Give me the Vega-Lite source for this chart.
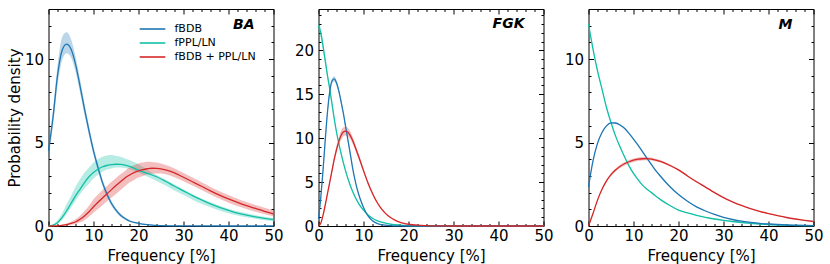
{
"$schema": "https://vega.github.io/schema/vega-lite/v6.json",
"autosize": {"type": "pad"},
"padding": {"left": 6.5, "top": 7, "right": 0, "bottom": 0},
"config": {
  "font": "DejaVu Sans",
  "view": {"stroke": "#000", "strokeWidth": 1},
  "style": {"guide-label": {"fontSize": 15, "font": "DejaVu Sans", "fill": "#000"}, "guide-title": {"fontSize": 15, "font": "DejaVu Sans", "fill": "#000", "fontWeight": "normal"}},
  "axis": {"grid": false, "domain": false, "labelFontSize": 15, "titleFontSize": 15, "labelColor": "#000", "titleColor": "#000", "tickColor": "#000", "tickWidth": 1, "titleFontWeight": "normal", "labelFont": "DejaVu Sans", "titleFont": "DejaVu Sans", "labelOverlap": false, "labelFlush": false, "labelBound": false},
  "legend": {"labelFontSize": 11, "labelFont": "DejaVu Sans", "labelColor": "#000"},
  "title": {"font": "DejaVu Sans"}
},
"datasets": {"d": [
{"p":"BA","s":"B","x":0,"y":4.5,"lo":4.1,"hi":4.9},
{"p":"BA","s":"B","x":1,"y":6.5,"lo":6.0,"hi":7.0},
{"p":"BA","s":"B","x":2,"y":9.0,"lo":8.4,"hi":9.6},
{"p":"BA","s":"B","x":3,"y":10.5,"lo":9.9,"hi":11.3},
{"p":"BA","s":"B","x":4,"y":10.9,"lo":10.35,"hi":11.6},
{"p":"BA","s":"B","x":5,"y":10.6,"lo":10.1,"hi":11.2},
{"p":"BA","s":"B","x":6,"y":9.7,"lo":9.25,"hi":10.15},
{"p":"BA","s":"B","x":7,"y":8.4,"lo":8.0,"hi":8.8},
{"p":"BA","s":"B","x":8,"y":7.0,"lo":6.65,"hi":7.35},
{"p":"BA","s":"B","x":9,"y":5.7,"lo":5.4,"hi":6.0},
{"p":"BA","s":"B","x":10,"y":4.5,"lo":4.25,"hi":4.75},
{"p":"BA","s":"B","x":11,"y":3.5,"lo":3.27,"hi":3.73},
{"p":"BA","s":"B","x":12,"y":2.6,"lo":2.4,"hi":2.8},
{"p":"BA","s":"B","x":13,"y":1.9,"lo":1.72,"hi":2.08},
{"p":"BA","s":"B","x":14,"y":1.35,"lo":1.2,"hi":1.5},
{"p":"BA","s":"B","x":15,"y":0.95,"lo":0.83,"hi":1.07},
{"p":"BA","s":"B","x":16,"y":0.65,"lo":0.55,"hi":0.75},
{"p":"BA","s":"B","x":17,"y":0.45,"lo":0.37,"hi":0.53},
{"p":"BA","s":"B","x":18,"y":0.3,"lo":0.24,"hi":0.36},
{"p":"BA","s":"B","x":20,"y":0.16,"lo":0.12,"hi":0.2},
{"p":"BA","s":"B","x":22,"y":0.08,"lo":0.05,"hi":0.1},
{"p":"BA","s":"B","x":25,"y":0.02,"lo":0.01,"hi":0.03},
{"p":"BA","s":"B","x":30,"y":0.005,"lo":0,"hi":0.01},
{"p":"BA","s":"B","x":40,"y":0,"lo":0,"hi":0},
{"p":"BA","s":"B","x":50,"y":0,"lo":0,"hi":0},
{"p":"BA","s":"P","x":0,"y":0,"lo":0,"hi":0},
{"p":"BA","s":"P","x":1,"y":0.05,"lo":0.03,"hi":0.08},
{"p":"BA","s":"P","x":2,"y":0.2,"lo":0.15,"hi":0.35},
{"p":"BA","s":"P","x":3,"y":0.5,"lo":0.35,"hi":0.75},
{"p":"BA","s":"P","x":4,"y":0.9,"lo":0.7,"hi":1.3},
{"p":"BA","s":"P","x":5,"y":1.35,"lo":1.1,"hi":1.8},
{"p":"BA","s":"P","x":6,"y":1.8,"lo":1.5,"hi":2.35},
{"p":"BA","s":"P","x":7,"y":2.2,"lo":1.9,"hi":2.8},
{"p":"BA","s":"P","x":8,"y":2.6,"lo":2.25,"hi":3.2},
{"p":"BA","s":"P","x":9,"y":2.95,"lo":2.55,"hi":3.5},
{"p":"BA","s":"P","x":10,"y":3.2,"lo":2.85,"hi":3.8},
{"p":"BA","s":"P","x":11,"y":3.4,"lo":3.05,"hi":4.0},
{"p":"BA","s":"P","x":12,"y":3.55,"lo":3.25,"hi":4.15},
{"p":"BA","s":"P","x":13,"y":3.63,"lo":3.38,"hi":4.23},
{"p":"BA","s":"P","x":14,"y":3.68,"lo":3.45,"hi":4.25},
{"p":"BA","s":"P","x":15,"y":3.7,"lo":3.5,"hi":4.2},
{"p":"BA","s":"P","x":16,"y":3.69,"lo":3.5,"hi":4.15},
{"p":"BA","s":"P","x":17,"y":3.65,"lo":3.47,"hi":4.05},
{"p":"BA","s":"P","x":18,"y":3.57,"lo":3.4,"hi":3.95},
{"p":"BA","s":"P","x":20,"y":3.35,"lo":3.2,"hi":3.7},
{"p":"BA","s":"P","x":22,"y":3.15,"lo":2.95,"hi":3.35},
{"p":"BA","s":"P","x":24,"y":2.95,"lo":2.7,"hi":3.05},
{"p":"BA","s":"P","x":26,"y":2.68,"lo":2.42,"hi":2.78},
{"p":"BA","s":"P","x":28,"y":2.38,"lo":2.12,"hi":2.48},
{"p":"BA","s":"P","x":30,"y":2.1,"lo":1.85,"hi":2.2},
{"p":"BA","s":"P","x":32,"y":1.82,"lo":1.58,"hi":1.9},
{"p":"BA","s":"P","x":34,"y":1.56,"lo":1.33,"hi":1.65},
{"p":"BA","s":"P","x":36,"y":1.32,"lo":1.12,"hi":1.42},
{"p":"BA","s":"P","x":38,"y":1.12,"lo":0.93,"hi":1.22},
{"p":"BA","s":"P","x":40,"y":0.94,"lo":0.77,"hi":1.04},
{"p":"BA","s":"P","x":42,"y":0.77,"lo":0.63,"hi":0.88},
{"p":"BA","s":"P","x":44,"y":0.65,"lo":0.52,"hi":0.76},
{"p":"BA","s":"P","x":46,"y":0.55,"lo":0.43,"hi":0.65},
{"p":"BA","s":"P","x":48,"y":0.46,"lo":0.35,"hi":0.56},
{"p":"BA","s":"P","x":50,"y":0.38,"lo":0.28,"hi":0.48},
{"p":"BA","s":"C","x":0,"y":0,"lo":0,"hi":0},
{"p":"BA","s":"C","x":2,"y":0.01,"lo":0,"hi":0.02},
{"p":"BA","s":"C","x":4,"y":0.08,"lo":0.03,"hi":0.15},
{"p":"BA","s":"C","x":5,"y":0.15,"lo":0.07,"hi":0.25},
{"p":"BA","s":"C","x":6,"y":0.24,"lo":0.12,"hi":0.4},
{"p":"BA","s":"C","x":7,"y":0.4,"lo":0.22,"hi":0.62},
{"p":"BA","s":"C","x":8,"y":0.6,"lo":0.35,"hi":0.9},
{"p":"BA","s":"C","x":9,"y":0.85,"lo":0.55,"hi":1.22},
{"p":"BA","s":"C","x":10,"y":1.15,"lo":0.8,"hi":1.6},
{"p":"BA","s":"C","x":11,"y":1.42,"lo":1.02,"hi":1.88},
{"p":"BA","s":"C","x":12,"y":1.68,"lo":1.25,"hi":2.15},
{"p":"BA","s":"C","x":13,"y":1.93,"lo":1.48,"hi":2.4},
{"p":"BA","s":"C","x":14,"y":2.18,"lo":1.7,"hi":2.65},
{"p":"BA","s":"C","x":15,"y":2.42,"lo":1.92,"hi":2.88},
{"p":"BA","s":"C","x":16,"y":2.65,"lo":2.15,"hi":3.1},
{"p":"BA","s":"C","x":17,"y":2.88,"lo":2.38,"hi":3.3},
{"p":"BA","s":"C","x":18,"y":3.05,"lo":2.6,"hi":3.5},
{"p":"BA","s":"C","x":19,"y":3.2,"lo":2.76,"hi":3.64},
{"p":"BA","s":"C","x":20,"y":3.3,"lo":2.9,"hi":3.75},
{"p":"BA","s":"C","x":21,"y":3.38,"lo":3.0,"hi":3.8},
{"p":"BA","s":"C","x":22,"y":3.43,"lo":3.1,"hi":3.85},
{"p":"BA","s":"C","x":23,"y":3.46,"lo":3.13,"hi":3.83},
{"p":"BA","s":"C","x":24,"y":3.45,"lo":3.15,"hi":3.8},
{"p":"BA","s":"C","x":25,"y":3.42,"lo":3.14,"hi":3.74},
{"p":"BA","s":"C","x":26,"y":3.36,"lo":3.1,"hi":3.66},
{"p":"BA","s":"C","x":28,"y":3.18,"lo":2.92,"hi":3.45},
{"p":"BA","s":"C","x":30,"y":2.92,"lo":2.68,"hi":3.18},
{"p":"BA","s":"C","x":32,"y":2.65,"lo":2.42,"hi":2.9},
{"p":"BA","s":"C","x":34,"y":2.38,"lo":2.15,"hi":2.62},
{"p":"BA","s":"C","x":36,"y":2.1,"lo":1.88,"hi":2.34},
{"p":"BA","s":"C","x":38,"y":1.85,"lo":1.63,"hi":2.08},
{"p":"BA","s":"C","x":40,"y":1.62,"lo":1.4,"hi":1.85},
{"p":"BA","s":"C","x":42,"y":1.41,"lo":1.2,"hi":1.63},
{"p":"BA","s":"C","x":44,"y":1.22,"lo":1.02,"hi":1.44},
{"p":"BA","s":"C","x":46,"y":1.05,"lo":0.86,"hi":1.26},
{"p":"BA","s":"C","x":48,"y":0.88,"lo":0.72,"hi":1.1},
{"p":"BA","s":"C","x":50,"y":0.73,"lo":0.58,"hi":0.95},
{"p":"FGK","s":"P","x":0,"y":22.8,"lo":22.2,"hi":23.4},
{"p":"FGK","s":"P","x":0.5,"y":22.0,"lo":21.4,"hi":22.6},
{"p":"FGK","s":"P","x":1,"y":20.5,"lo":20.0,"hi":21.0},
{"p":"FGK","s":"P","x":1.5,"y":18.8,"lo":18.35,"hi":19.25},
{"p":"FGK","s":"P","x":2,"y":17.1,"lo":16.7,"hi":17.5},
{"p":"FGK","s":"P","x":2.5,"y":15.6,"lo":15.25,"hi":15.95},
{"p":"FGK","s":"P","x":3,"y":13.9,"lo":13.6,"hi":14.2},
{"p":"FGK","s":"P","x":3.5,"y":12.2,"lo":11.95,"hi":12.45},
{"p":"FGK","s":"P","x":4,"y":10.7,"lo":10.45,"hi":10.95},
{"p":"FGK","s":"P","x":5,"y":8.3,"lo":8.1,"hi":8.5},
{"p":"FGK","s":"P","x":6,"y":6.3,"lo":6.15,"hi":6.45},
{"p":"FGK","s":"P","x":7,"y":4.7,"lo":4.58,"hi":4.82},
{"p":"FGK","s":"P","x":8,"y":3.45,"lo":3.35,"hi":3.55},
{"p":"FGK","s":"P","x":9,"y":2.5,"lo":2.42,"hi":2.58},
{"p":"FGK","s":"P","x":10,"y":1.8,"lo":1.74,"hi":1.86},
{"p":"FGK","s":"P","x":11,"y":1.25,"lo":1.2,"hi":1.3},
{"p":"FGK","s":"P","x":12,"y":0.88,"lo":0.84,"hi":0.92},
{"p":"FGK","s":"P","x":13,"y":0.62,"lo":0.59,"hi":0.65},
{"p":"FGK","s":"P","x":14,"y":0.44,"lo":0.42,"hi":0.46},
{"p":"FGK","s":"P","x":16,"y":0.22,"lo":0.2,"hi":0.24},
{"p":"FGK","s":"P","x":18,"y":0.11,"lo":0.1,"hi":0.12},
{"p":"FGK","s":"P","x":20,"y":0.05,"lo":0.04,"hi":0.06},
{"p":"FGK","s":"P","x":25,"y":0.01,"lo":0.01,"hi":0.01},
{"p":"FGK","s":"P","x":30,"y":0,"lo":0,"hi":0},
{"p":"FGK","s":"P","x":50,"y":0,"lo":0,"hi":0},
{"p":"FGK","s":"B","x":0,"y":0.8,"lo":0.7,"hi":0.9},
{"p":"FGK","s":"B","x":0.5,"y":3.2,"lo":3.0,"hi":3.4},
{"p":"FGK","s":"B","x":1,"y":6.3,"lo":6.0,"hi":6.6},
{"p":"FGK","s":"B","x":1.5,"y":9.8,"lo":9.5,"hi":10.1},
{"p":"FGK","s":"B","x":2,"y":13.0,"lo":12.7,"hi":13.3},
{"p":"FGK","s":"B","x":2.5,"y":15.3,"lo":15.0,"hi":15.6},
{"p":"FGK","s":"B","x":3,"y":16.5,"lo":16.2,"hi":16.8},
{"p":"FGK","s":"B","x":3.5,"y":16.75,"lo":16.45,"hi":17.05},
{"p":"FGK","s":"B","x":4,"y":16.3,"lo":16.0,"hi":16.6},
{"p":"FGK","s":"B","x":4.5,"y":15.4,"lo":15.15,"hi":15.65},
{"p":"FGK","s":"B","x":5,"y":14.2,"lo":13.95,"hi":14.45},
{"p":"FGK","s":"B","x":5.5,"y":12.9,"lo":12.7,"hi":13.1},
{"p":"FGK","s":"B","x":6,"y":11.4,"lo":11.2,"hi":11.6},
{"p":"FGK","s":"B","x":6.5,"y":9.9,"lo":9.72,"hi":10.08},
{"p":"FGK","s":"B","x":7,"y":8.4,"lo":8.25,"hi":8.55},
{"p":"FGK","s":"B","x":7.5,"y":6.85,"lo":6.72,"hi":6.98},
{"p":"FGK","s":"B","x":8,"y":5.5,"lo":5.4,"hi":5.6},
{"p":"FGK","s":"B","x":8.5,"y":4.4,"lo":4.32,"hi":4.48},
{"p":"FGK","s":"B","x":9,"y":3.5,"lo":3.43,"hi":3.57},
{"p":"FGK","s":"B","x":9.5,"y":2.75,"lo":2.7,"hi":2.8},
{"p":"FGK","s":"B","x":10,"y":2.1,"lo":2.06,"hi":2.14},
{"p":"FGK","s":"B","x":11,"y":1.15,"lo":1.12,"hi":1.18},
{"p":"FGK","s":"B","x":12,"y":0.6,"lo":0.58,"hi":0.62},
{"p":"FGK","s":"B","x":13,"y":0.3,"lo":0.29,"hi":0.31},
{"p":"FGK","s":"B","x":14,"y":0.15,"lo":0.14,"hi":0.16},
{"p":"FGK","s":"B","x":16,"y":0.04,"lo":0.04,"hi":0.04},
{"p":"FGK","s":"B","x":18,"y":0.01,"lo":0.01,"hi":0.01},
{"p":"FGK","s":"B","x":20,"y":0,"lo":0,"hi":0},
{"p":"FGK","s":"B","x":50,"y":0,"lo":0,"hi":0},
{"p":"FGK","s":"C","x":0,"y":0,"lo":0,"hi":0},
{"p":"FGK","s":"C","x":0.5,"y":0.3,"lo":0.25,"hi":0.35},
{"p":"FGK","s":"C","x":1,"y":1.2,"lo":1.1,"hi":1.3},
{"p":"FGK","s":"C","x":1.5,"y":2.4,"lo":2.25,"hi":2.55},
{"p":"FGK","s":"C","x":2,"y":3.7,"lo":3.5,"hi":3.9},
{"p":"FGK","s":"C","x":2.5,"y":5.0,"lo":4.75,"hi":5.25},
{"p":"FGK","s":"C","x":3,"y":6.3,"lo":6.0,"hi":6.6},
{"p":"FGK","s":"C","x":3.5,"y":7.6,"lo":7.25,"hi":7.95},
{"p":"FGK","s":"C","x":4,"y":8.7,"lo":8.3,"hi":9.1},
{"p":"FGK","s":"C","x":4.5,"y":9.6,"lo":9.15,"hi":10.05},
{"p":"FGK","s":"C","x":5,"y":10.3,"lo":9.8,"hi":10.8},
{"p":"FGK","s":"C","x":5.5,"y":10.7,"lo":10.2,"hi":11.2},
{"p":"FGK","s":"C","x":6,"y":10.8,"lo":10.3,"hi":11.3},
{"p":"FGK","s":"C","x":6.5,"y":10.7,"lo":10.22,"hi":11.18},
{"p":"FGK","s":"C","x":7,"y":10.35,"lo":9.9,"hi":10.8},
{"p":"FGK","s":"C","x":7.5,"y":9.85,"lo":9.45,"hi":10.25},
{"p":"FGK","s":"C","x":8,"y":9.2,"lo":8.85,"hi":9.55},
{"p":"FGK","s":"C","x":9,"y":7.8,"lo":7.5,"hi":8.1},
{"p":"FGK","s":"C","x":10,"y":6.3,"lo":6.05,"hi":6.55},
{"p":"FGK","s":"C","x":11,"y":4.9,"lo":4.7,"hi":5.1},
{"p":"FGK","s":"C","x":12,"y":3.7,"lo":3.55,"hi":3.85},
{"p":"FGK","s":"C","x":13,"y":2.7,"lo":2.58,"hi":2.82},
{"p":"FGK","s":"C","x":14,"y":1.95,"lo":1.86,"hi":2.04},
{"p":"FGK","s":"C","x":15,"y":1.38,"lo":1.31,"hi":1.45},
{"p":"FGK","s":"C","x":16,"y":0.96,"lo":0.91,"hi":1.01},
{"p":"FGK","s":"C","x":17,"y":0.66,"lo":0.62,"hi":0.7},
{"p":"FGK","s":"C","x":18,"y":0.45,"lo":0.42,"hi":0.48},
{"p":"FGK","s":"C","x":19,"y":0.3,"lo":0.28,"hi":0.32},
{"p":"FGK","s":"C","x":20,"y":0.2,"lo":0.18,"hi":0.22},
{"p":"FGK","s":"C","x":22,"y":0.09,"lo":0.08,"hi":0.1},
{"p":"FGK","s":"C","x":24,"y":0.04,"lo":0.03,"hi":0.05},
{"p":"FGK","s":"C","x":26,"y":0.015,"lo":0.01,"hi":0.02},
{"p":"FGK","s":"C","x":30,"y":0,"lo":0,"hi":0},
{"p":"FGK","s":"C","x":50,"y":0,"lo":0,"hi":0},
{"p":"M","s":"P","x":0,"y":12.1,"lo":12.0,"hi":12.2},
{"p":"M","s":"P","x":1,"y":10.6,"lo":10.5,"hi":10.7},
{"p":"M","s":"P","x":2,"y":9.3,"lo":9.22,"hi":9.38},
{"p":"M","s":"P","x":3,"y":8.2,"lo":8.13,"hi":8.27},
{"p":"M","s":"P","x":4,"y":7.1,"lo":7.04,"hi":7.16},
{"p":"M","s":"P","x":5,"y":6.2,"lo":6.15,"hi":6.25},
{"p":"M","s":"P","x":6,"y":5.4,"lo":5.36,"hi":5.44},
{"p":"M","s":"P","x":7,"y":4.75,"lo":4.71,"hi":4.79},
{"p":"M","s":"P","x":8,"y":4.15,"lo":4.12,"hi":4.18},
{"p":"M","s":"P","x":9,"y":3.6,"lo":3.57,"hi":3.63},
{"p":"M","s":"P","x":10,"y":3.15,"lo":3.12,"hi":3.18},
{"p":"M","s":"P","x":11,"y":2.78,"lo":2.76,"hi":2.8},
{"p":"M","s":"P","x":12,"y":2.45,"lo":2.43,"hi":2.47},
{"p":"M","s":"P","x":13,"y":2.2,"lo":2.18,"hi":2.22},
{"p":"M","s":"P","x":14,"y":2.0,"lo":1.98,"hi":2.02},
{"p":"M","s":"P","x":15,"y":1.78,"lo":1.76,"hi":1.8},
{"p":"M","s":"P","x":16,"y":1.58,"lo":1.56,"hi":1.6},
{"p":"M","s":"P","x":18,"y":1.24,"lo":1.22,"hi":1.26},
{"p":"M","s":"P","x":20,"y":0.95,"lo":0.94,"hi":0.96},
{"p":"M","s":"P","x":22,"y":0.78,"lo":0.77,"hi":0.79},
{"p":"M","s":"P","x":24,"y":0.64,"lo":0.63,"hi":0.65},
{"p":"M","s":"P","x":26,"y":0.52,"lo":0.51,"hi":0.53},
{"p":"M","s":"P","x":28,"y":0.42,"lo":0.41,"hi":0.43},
{"p":"M","s":"P","x":30,"y":0.34,"lo":0.33,"hi":0.35},
{"p":"M","s":"P","x":32,"y":0.27,"lo":0.26,"hi":0.28},
{"p":"M","s":"P","x":34,"y":0.21,"lo":0.2,"hi":0.22},
{"p":"M","s":"P","x":36,"y":0.16,"lo":0.15,"hi":0.17},
{"p":"M","s":"P","x":38,"y":0.12,"lo":0.11,"hi":0.13},
{"p":"M","s":"P","x":40,"y":0.09,"lo":0.08,"hi":0.1},
{"p":"M","s":"P","x":44,"y":0.05,"lo":0.04,"hi":0.06},
{"p":"M","s":"P","x":50,"y":0.02,"lo":0.01,"hi":0.03},
{"p":"M","s":"B","x":0,"y":2.34,"lo":2.3,"hi":2.38},
{"p":"M","s":"B","x":1,"y":3.9,"lo":3.86,"hi":3.94},
{"p":"M","s":"B","x":2,"y":4.95,"lo":4.91,"hi":4.99},
{"p":"M","s":"B","x":3,"y":5.6,"lo":5.56,"hi":5.64},
{"p":"M","s":"B","x":4,"y":6.0,"lo":5.96,"hi":6.04},
{"p":"M","s":"B","x":5,"y":6.18,"lo":6.14,"hi":6.22},
{"p":"M","s":"B","x":6,"y":6.17,"lo":6.13,"hi":6.21},
{"p":"M","s":"B","x":7,"y":6.05,"lo":6.01,"hi":6.09},
{"p":"M","s":"B","x":8,"y":5.85,"lo":5.81,"hi":5.89},
{"p":"M","s":"B","x":9,"y":5.55,"lo":5.51,"hi":5.59},
{"p":"M","s":"B","x":10,"y":5.2,"lo":5.16,"hi":5.24},
{"p":"M","s":"B","x":11,"y":4.85,"lo":4.81,"hi":4.89},
{"p":"M","s":"B","x":12,"y":4.45,"lo":4.41,"hi":4.49},
{"p":"M","s":"B","x":13,"y":4.05,"lo":4.01,"hi":4.09},
{"p":"M","s":"B","x":14,"y":3.68,"lo":3.64,"hi":3.72},
{"p":"M","s":"B","x":15,"y":3.3,"lo":3.26,"hi":3.34},
{"p":"M","s":"B","x":16,"y":2.98,"lo":2.94,"hi":3.02},
{"p":"M","s":"B","x":18,"y":2.38,"lo":2.35,"hi":2.41},
{"p":"M","s":"B","x":20,"y":1.88,"lo":1.85,"hi":1.91},
{"p":"M","s":"B","x":22,"y":1.48,"lo":1.46,"hi":1.5},
{"p":"M","s":"B","x":24,"y":1.15,"lo":1.13,"hi":1.17},
{"p":"M","s":"B","x":26,"y":0.9,"lo":0.88,"hi":0.92},
{"p":"M","s":"B","x":28,"y":0.69,"lo":0.68,"hi":0.7},
{"p":"M","s":"B","x":30,"y":0.52,"lo":0.51,"hi":0.53},
{"p":"M","s":"B","x":32,"y":0.39,"lo":0.38,"hi":0.4},
{"p":"M","s":"B","x":34,"y":0.29,"lo":0.28,"hi":0.3},
{"p":"M","s":"B","x":36,"y":0.22,"lo":0.21,"hi":0.23},
{"p":"M","s":"B","x":38,"y":0.16,"lo":0.15,"hi":0.17},
{"p":"M","s":"B","x":40,"y":0.12,"lo":0.11,"hi":0.13},
{"p":"M","s":"B","x":44,"y":0.06,"lo":0.05,"hi":0.07},
{"p":"M","s":"B","x":50,"y":0.02,"lo":0.01,"hi":0.03},
{"p":"M","s":"C","x":0,"y":0,"lo":0,"hi":0},
{"p":"M","s":"C","x":1,"y":0.75,"lo":0.72,"hi":0.78},
{"p":"M","s":"C","x":2,"y":1.55,"lo":1.5,"hi":1.6},
{"p":"M","s":"C","x":3,"y":2.2,"lo":2.14,"hi":2.26},
{"p":"M","s":"C","x":4,"y":2.7,"lo":2.63,"hi":2.77},
{"p":"M","s":"C","x":5,"y":3.08,"lo":3.0,"hi":3.16},
{"p":"M","s":"C","x":6,"y":3.35,"lo":3.26,"hi":3.44},
{"p":"M","s":"C","x":7,"y":3.57,"lo":3.47,"hi":3.67},
{"p":"M","s":"C","x":8,"y":3.73,"lo":3.63,"hi":3.83},
{"p":"M","s":"C","x":9,"y":3.85,"lo":3.75,"hi":3.95},
{"p":"M","s":"C","x":10,"y":3.94,"lo":3.84,"hi":4.04},
{"p":"M","s":"C","x":11,"y":4.0,"lo":3.9,"hi":4.1},
{"p":"M","s":"C","x":12,"y":4.03,"lo":3.93,"hi":4.13},
{"p":"M","s":"C","x":13,"y":4.04,"lo":3.94,"hi":4.14},
{"p":"M","s":"C","x":14,"y":4.01,"lo":3.92,"hi":4.1},
{"p":"M","s":"C","x":15,"y":3.95,"lo":3.87,"hi":4.03},
{"p":"M","s":"C","x":16,"y":3.87,"lo":3.8,"hi":3.94},
{"p":"M","s":"C","x":18,"y":3.64,"lo":3.58,"hi":3.7},
{"p":"M","s":"C","x":20,"y":3.36,"lo":3.31,"hi":3.41},
{"p":"M","s":"C","x":22,"y":3.0,"lo":2.96,"hi":3.04},
{"p":"M","s":"C","x":24,"y":2.65,"lo":2.61,"hi":2.69},
{"p":"M","s":"C","x":26,"y":2.33,"lo":2.3,"hi":2.36},
{"p":"M","s":"C","x":28,"y":2.0,"lo":1.97,"hi":2.03},
{"p":"M","s":"C","x":30,"y":1.7,"lo":1.67,"hi":1.73},
{"p":"M","s":"C","x":32,"y":1.45,"lo":1.43,"hi":1.47},
{"p":"M","s":"C","x":34,"y":1.23,"lo":1.21,"hi":1.25},
{"p":"M","s":"C","x":36,"y":1.04,"lo":1.02,"hi":1.06},
{"p":"M","s":"C","x":38,"y":0.88,"lo":0.86,"hi":0.9},
{"p":"M","s":"C","x":40,"y":0.74,"lo":0.72,"hi":0.76},
{"p":"M","s":"C","x":42,"y":0.62,"lo":0.6,"hi":0.64},
{"p":"M","s":"C","x":44,"y":0.51,"lo":0.49,"hi":0.53},
{"p":"M","s":"C","x":46,"y":0.42,"lo":0.4,"hi":0.44},
{"p":"M","s":"C","x":48,"y":0.34,"lo":0.32,"hi":0.36},
{"p":"M","s":"C","x":50,"y":0.27,"lo":0.25,"hi":0.29}
]},
"bounds": "flush",
"spacing": 45,
"resolve": {"scale": {"stroke": "independent"}, "legend": {"stroke": "independent"}},
"hconcat": [
{
  "width": 225, "height": 217,
  "title": {"text": "BA", "orient": "top", "anchor": "end", "frame": "group", "offset": -23, "dx": -19, "fontSize": 14, "fontStyle": "italic", "fontWeight": "bold", "color": "#000"},
  "data": {"name": "d"},
  "transform": [{"filter": "datum.p == 'BA'"}],
  "layer": [
    {"mark": {"type": "area", "opacity": 0.3, "interpolate": "monotone"},
     "encoding": {
       "x": {"field": "x", "type": "quantitative", "scale": {"domain": [0, 50], "nice": false}, "axis": null},
       "y": {"field": "lo", "type": "quantitative", "scale": {"domain": [0, 13], "nice": false}, "axis": null},
       "y2": {"field": "hi"},
       "detail": {"field": "s"},
       "fill": {"condition": [{"test": "datum.s == 'B'", "value": "#1f77b4"}, {"test": "datum.s == 'P'", "value": "#11bfa5"}], "value": "#d62728"}}},
    {"mark": {"type": "line", "strokeWidth": 1.3, "interpolate": "monotone"},
     "encoding": {
       "x": {"field": "x", "type": "quantitative", "scale": {"domain": [0, 50], "nice": false},
             "axis": {"orient": "bottom", "values": [0,2,4,6,8,10,12,14,16,18,20,22,24,26,28,30,32,34,36,38,40,42,44,46,48,50], "labelExpr": "datum.value % 10 == 0 ? datum.label : ''", "tickSize": {"condition": {"test": "datum.value % 10 == 0", "value": -5}, "value": -2.5}, "labelPadding": 7.5, "labelFontSize": 15, "titleFontSize": 15, "title": "Frequency [%]", "titlePadding": 2}},
       "y": {"field": "y", "type": "quantitative", "scale": {"domain": [0, 13], "nice": false},
             "axis": {"orient": "left", "values": [0,1,2,3,4,5,6,7,8,9,10,11,12], "labelExpr": "datum.value % 5 == 0 ? datum.label : ''", "tickSize": {"condition": {"test": "datum.value % 5 == 0", "value": -5}, "value": -2.5}, "labelPadding": 10, "labelFontSize": 15, "titleFontSize": 15, "title": "Probability density", "titlePadding": 2}},
       "stroke": {"field": "s", "type": "nominal", "scale": {"domain": ["B", "P", "C"], "range": ["#1f77b4", "#11bfa5", "#d62728"]},
                 "legend": {"orient": "none", "legendX": 95, "legendY": 11, "title": null, "symbolType": "M-1.6,0H1.6", "symbolSize": 256, "symbolStrokeWidth": 1.6, "labelOffset": 13, "rowPadding": 0, "labelExpr": "datum.label == 'B' ? 'fBDB' : datum.label == 'P' ? 'fPPL/LN' : 'fBDB + PPL/LN'"}}}},
    {"mark": {"type": "line", "opacity": 0},
     "encoding": {
       "x": {"field": "x", "type": "quantitative", "scale": {"domain": [0, 50], "nice": false},
             "axis": {"orient": "top", "values": [0,2,4,6,8,10,12,14,16,18,20,22,24,26,28,30,32,34,36,38,40,42,44,46,48,50], "labels": false, "tickSize": {"condition": {"test": "datum.value % 10 == 0", "value": -5}, "value": -2.5}, "title": null}},
       "y": {"field": "y", "type": "quantitative", "scale": {"domain": [0, 13], "nice": false},
             "axis": {"orient": "right", "values": [0,1,2,3,4,5,6,7,8,9,10,11,12], "labels": false, "tickSize": {"condition": {"test": "datum.value % 5 == 0", "value": -5}, "value": -2.5}, "title": null}},
       "detail": {"field": "s"}}}
  ],
  "resolve": {"axis": {"x": "independent", "y": "independent"}}
},
{
  "width": 225, "height": 217,
  "title": {"text": "FGK", "orient": "top", "anchor": "end", "frame": "group", "offset": -23, "dx": -19, "fontSize": 14, "fontStyle": "italic", "fontWeight": "bold", "color": "#000"},
  "data": {"name": "d"},
  "transform": [{"filter": "datum.p == 'FGK'"}],
  "layer": [
    {"mark": {"type": "area", "opacity": 0.3, "interpolate": "monotone"},
     "encoding": {
       "x": {"field": "x", "type": "quantitative", "scale": {"domain": [0, 50], "nice": false}, "axis": null},
       "y": {"field": "lo", "type": "quantitative", "scale": {"domain": [0, 24.7], "nice": false}, "axis": null},
       "y2": {"field": "hi"},
       "detail": {"field": "s"},
       "fill": {"condition": [{"test": "datum.s == 'B'", "value": "#1f77b4"}, {"test": "datum.s == 'P'", "value": "#11bfa5"}], "value": "#d62728"}}},
    {"mark": {"type": "line", "strokeWidth": 1.3, "interpolate": "monotone"},
     "encoding": {
       "x": {"field": "x", "type": "quantitative", "scale": {"domain": [0, 50], "nice": false},
             "axis": {"orient": "bottom", "values": [0,2,4,6,8,10,12,14,16,18,20,22,24,26,28,30,32,34,36,38,40,42,44,46,48,50], "labelExpr": "datum.value % 10 == 0 ? datum.label : ''", "tickSize": {"condition": {"test": "datum.value % 10 == 0", "value": -5}, "value": -2.5}, "labelPadding": 7.5, "labelFontSize": 15, "titleFontSize": 15, "title": "Frequency [%]", "titlePadding": 2}},
       "y": {"field": "y", "type": "quantitative", "scale": {"domain": [0, 24.7], "nice": false},
             "axis": {"orient": "left", "values": [0,1,2,3,4,5,6,7,8,9,10,11,12,13,14,15,16,17,18,19,20,21,22,23,24], "labelExpr": "datum.value % 5 == 0 ? datum.label : ''", "tickSize": {"condition": {"test": "datum.value % 5 == 0", "value": -5}, "value": -2.5}, "labelPadding": 10, "labelFontSize": 15, "title": null}},
       "detail": {"field": "s"},
       "stroke": {"condition": [{"test": "datum.s == 'B'", "value": "#1f77b4"}, {"test": "datum.s == 'P'", "value": "#11bfa5"}], "value": "#d62728"}}},
    {"mark": {"type": "line", "opacity": 0},
     "encoding": {
       "x": {"field": "x", "type": "quantitative", "scale": {"domain": [0, 50], "nice": false},
             "axis": {"orient": "top", "values": [0,2,4,6,8,10,12,14,16,18,20,22,24,26,28,30,32,34,36,38,40,42,44,46,48,50], "labels": false, "tickSize": {"condition": {"test": "datum.value % 10 == 0", "value": -5}, "value": -2.5}, "title": null}},
       "y": {"field": "y", "type": "quantitative", "scale": {"domain": [0, 24.7], "nice": false},
             "axis": {"orient": "right", "values": [0,1,2,3,4,5,6,7,8,9,10,11,12,13,14,15,16,17,18,19,20,21,22,23,24], "labels": false, "tickSize": {"condition": {"test": "datum.value % 5 == 0", "value": -5}, "value": -2.5}, "title": null}},
       "detail": {"field": "s"}}}
  ],
  "resolve": {"axis": {"x": "independent", "y": "independent"}}
},
{
  "width": 225, "height": 217,
  "title": {"text": "M", "orient": "top", "anchor": "end", "frame": "group", "offset": -23, "dx": -21, "fontSize": 14, "fontStyle": "italic", "fontWeight": "bold", "color": "#000"},
  "data": {"name": "d"},
  "transform": [{"filter": "datum.p == 'M'"}],
  "layer": [
    {"mark": {"type": "area", "opacity": 0.3, "interpolate": "monotone"},
     "encoding": {
       "x": {"field": "x", "type": "quantitative", "scale": {"domain": [0, 50], "nice": false}, "axis": null},
       "y": {"field": "lo", "type": "quantitative", "scale": {"domain": [0, 13], "nice": false}, "axis": null},
       "y2": {"field": "hi"},
       "detail": {"field": "s"},
       "fill": {"condition": [{"test": "datum.s == 'B'", "value": "#1f77b4"}, {"test": "datum.s == 'P'", "value": "#11bfa5"}], "value": "#d62728"}}},
    {"mark": {"type": "line", "strokeWidth": 1.3, "interpolate": "monotone"},
     "encoding": {
       "x": {"field": "x", "type": "quantitative", "scale": {"domain": [0, 50], "nice": false},
             "axis": {"orient": "bottom", "values": [0,2,4,6,8,10,12,14,16,18,20,22,24,26,28,30,32,34,36,38,40,42,44,46,48,50], "labelExpr": "datum.value % 10 == 0 ? datum.label : ''", "tickSize": {"condition": {"test": "datum.value % 10 == 0", "value": -5}, "value": -2.5}, "labelPadding": 7.5, "labelFontSize": 15, "titleFontSize": 15, "title": "Frequency [%]", "titlePadding": 2}},
       "y": {"field": "y", "type": "quantitative", "scale": {"domain": [0, 13], "nice": false},
             "axis": {"orient": "left", "values": [0,1,2,3,4,5,6,7,8,9,10,11,12], "labelExpr": "datum.value % 5 == 0 ? datum.label : ''", "tickSize": {"condition": {"test": "datum.value % 5 == 0", "value": -5}, "value": -2.5}, "labelPadding": 10, "labelFontSize": 15, "title": null}},
       "detail": {"field": "s"},
       "stroke": {"condition": [{"test": "datum.s == 'B'", "value": "#1f77b4"}, {"test": "datum.s == 'P'", "value": "#11bfa5"}], "value": "#d62728"}}},
    {"mark": {"type": "line", "opacity": 0},
     "encoding": {
       "x": {"field": "x", "type": "quantitative", "scale": {"domain": [0, 50], "nice": false},
             "axis": {"orient": "top", "values": [0,2,4,6,8,10,12,14,16,18,20,22,24,26,28,30,32,34,36,38,40,42,44,46,48,50], "labels": false, "tickSize": {"condition": {"test": "datum.value % 10 == 0", "value": -5}, "value": -2.5}, "title": null}},
       "y": {"field": "y", "type": "quantitative", "scale": {"domain": [0, 13], "nice": false},
             "axis": {"orient": "right", "values": [0,1,2,3,4,5,6,7,8,9,10,11,12], "labels": false, "tickSize": {"condition": {"test": "datum.value % 5 == 0", "value": -5}, "value": -2.5}, "title": null}},
       "detail": {"field": "s"}}}
  ],
  "resolve": {"axis": {"x": "independent", "y": "independent"}}
}
]
}
